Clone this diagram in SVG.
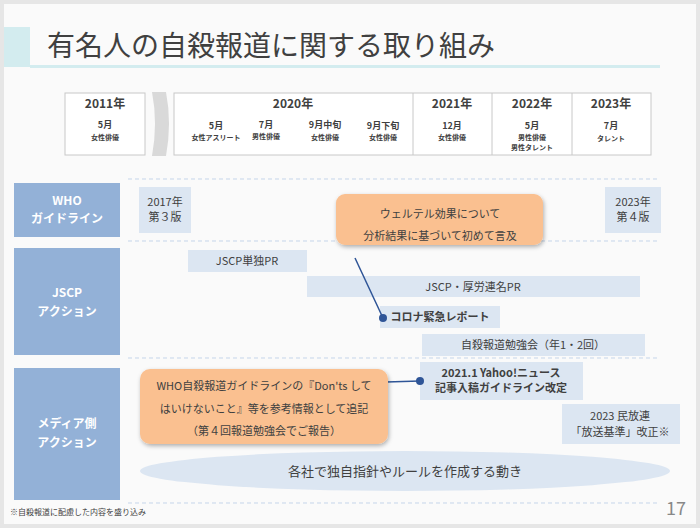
<svg xmlns="http://www.w3.org/2000/svg" width="700" height="528" viewBox="0 0 700 528">
<style>
text{font-family:"Noto Sans CJK JP","Liberation Sans",sans-serif;fill:#404040}
.hb{fill:#fff;stroke:#c8c8c8;stroke-width:1}
.yr{font-size:12px;font-weight:bold;text-anchor:middle}
.mo{font-size:9px;font-weight:bold;text-anchor:middle}
.sm{font-size:7px;font-weight:bold;text-anchor:middle}
.lab{fill:#93b1d7}
.lt{fill:#fff;font-size:12px;font-weight:bold;text-anchor:middle}
.bx{fill:#dce6f2}
.t{font-size:11px;text-anchor:middle}
.or{fill:#fac090;filter:url(#sh)}
.dl{stroke:#c5d5ea;stroke-dasharray:4 3;stroke-width:1}
</style>
<defs><filter id="sh" x="-10%" y="-10%" width="130%" height="140%"><feDropShadow dx="1" dy="2" stdDeviation="2" flood-color="#000" flood-opacity="0.3"/></filter></defs>
<rect width="700" height="528" fill="#e6e6e6"/>
<rect x="4" y="4" width="692" height="520" fill="#fafafa"/>
<rect x="4" y="27" width="26" height="40" fill="#d3ecef"/>
<rect x="30" y="65" width="630" height="3" fill="#d3ecef"/>
<text x="47" y="56" style="font-size:28px;fill:#404040">有名人の自殺報道に関する取り組み</text>
<g id="header">
<rect class="hb" x="65" y="93" width="80" height="62"/>
<text class="yr" x="105" y="108">2011年</text><text class="mo" x="105" y="128">5月</text><text class="sm" x="105" y="140">女性俳優</text>
<path d="M152 92 Q158 123 152 156 L166 156 Q172 123 166 92 Z" fill="#d9d9d9"/>
<rect class="hb" x="174" y="93" width="477" height="62"/>
<line x1="413" y1="93" x2="413" y2="155" stroke="#c8c8c8"/><line x1="492" y1="93" x2="492" y2="155" stroke="#c8c8c8"/><line x1="572" y1="93" x2="572" y2="155" stroke="#c8c8c8"/>
<text class="yr" x="293" y="108">2020年</text>
<text class="mo" x="216" y="129">5月</text><text class="sm" x="216" y="140">女性アスリート</text>
<text class="mo" x="266" y="128">7月</text><text class="sm" x="266" y="139">男性俳優</text>
<text class="mo" x="325" y="128">9月中旬</text><text class="sm" x="325" y="140">女性俳優</text>
<text class="mo" x="383" y="129">9月下旬</text><text class="sm" x="383" y="140">女性俳優</text>
<text class="yr" x="452" y="108">2021年</text><text class="mo" x="452" y="129">12月</text><text class="sm" x="452" y="140">女性俳優</text>
<text class="yr" x="532" y="108">2022年</text><text class="mo" x="532" y="129">5月</text><text class="sm" x="532" y="140">男性俳優</text><text class="sm" x="532" y="150">男性タレント</text>
<text class="yr" x="611" y="108">2023年</text><text class="mo" x="611" y="129">7月</text><text class="sm" x="611" y="141">タレント</text>
</g>
<g id="grid">
<line class="dl" x1="128" y1="179" x2="660" y2="179"/><line class="dl" x1="128" y1="241" x2="660" y2="241"/><line class="dl" x1="128" y1="358" x2="660" y2="358"/><line class="dl" x1="128" y1="503" x2="660" y2="503"/>
</g>
<g id="who"><rect class="lab" x="14" y="183" width="106" height="54"/><text class="lt" x="67" y="205">WHO</text><text class="lt" x="67" y="223">ガイドライン</text></g>
<g id="jscp"><rect class="lab" x="14" y="248" width="106" height="107"/><text class="lt" x="67" y="297">JSCP</text><text class="lt" x="67" y="316">アクション</text></g>
<g id="media"><rect class="lab" x="14" y="368" width="106" height="132"/><text class="lt" x="67" y="428">メディア側</text><text class="lt" x="67" y="447">アクション</text></g>
<g id="who2017"><rect class="bx" x="139" y="187" width="52" height="46"/><text class="t" x="165" y="206">2017年</text><text class="t" x="165" y="221">第３版</text></g>
<g id="who2023"><rect class="bx" x="605" y="187" width="56" height="46"/><text class="t" x="633" y="206">2023年</text><text class="t" x="633" y="221">第４版</text></g>
<g id="jscp1"><rect class="bx" x="188" y="250" width="119" height="22"/><text class="t" x="247" y="265">JSCP単独PR</text></g>
<g id="jscp2"><rect class="bx" x="307" y="276" width="333" height="21"/><text class="t" x="473" y="291">JSCP・厚労連名PR</text></g>
<g id="corona"><rect class="bx" x="380" y="306" width="120" height="22"/><text x="440" y="321" style="font-size:11px;font-weight:bold;text-anchor:middle">コロナ緊急レポート</text></g>
<g id="study"><rect class="bx" x="422" y="334" width="223" height="22"/><text class="t" x="533" y="349">自殺報道勉強会（年1・2回）</text></g>
<g id="yahoo"><rect class="bx" x="420" y="362" width="163" height="38"/><text x="501" y="377" style="font-size:11px;font-weight:bold;text-anchor:middle">2021.1 Yahoo!ニュース</text><text x="501" y="392" style="font-size:11px;font-weight:bold;text-anchor:middle">記事入稿ガイドライン改定</text></g>
<g id="minpo"><rect class="bx" x="562" y="404" width="118" height="40"/><text class="t" x="620" y="420">2023  民放連</text><text class="t" x="620" y="436">「放送基準」改正※</text></g>
<g id="connectors">
<line x1="355" y1="258" x2="383" y2="318" stroke="#2f5597" stroke-width="1.5"/><circle cx="383" cy="318" r="4" fill="#2f5597"/>
<line x1="386" y1="382" x2="420" y2="381" stroke="#2f5597" stroke-width="1.5"/><circle cx="420" cy="381" r="4" fill="#2f5597"/>
</g>
<g id="callout1"><rect class="or" x="336" y="194" width="207" height="51" rx="9"/><text class="t" x="440" y="218">ウェルテル効果について</text><text class="t" x="440" y="240">分析結果に基づいて初めて言及</text></g>
<g id="callout2"><rect class="or" x="140" y="369" width="248" height="75" rx="10"/><text class="t" x="264" y="390">WHO自殺報道ガイドラインの『Don'ts して</text><text class="t" x="264" y="413">はいけないこと』等を参考情報として追記</text><text class="t" x="264" y="435">（第４回報道勉強会でご報告）</text></g>
<g id="movement"><ellipse cx="405" cy="471" rx="265" ry="20" fill="#dce6f2"/><text x="405" y="476" style="font-size:13px;text-anchor:middle">各社で独自指針やルールを作成する動き</text></g>
<text x="10" y="515" style="font-size:8px">※自殺報道に配慮した内容を盛り込み</text>
<text x="686" y="515" style="font-size:18px;fill:#888;text-anchor:end">17</text>
</svg>
